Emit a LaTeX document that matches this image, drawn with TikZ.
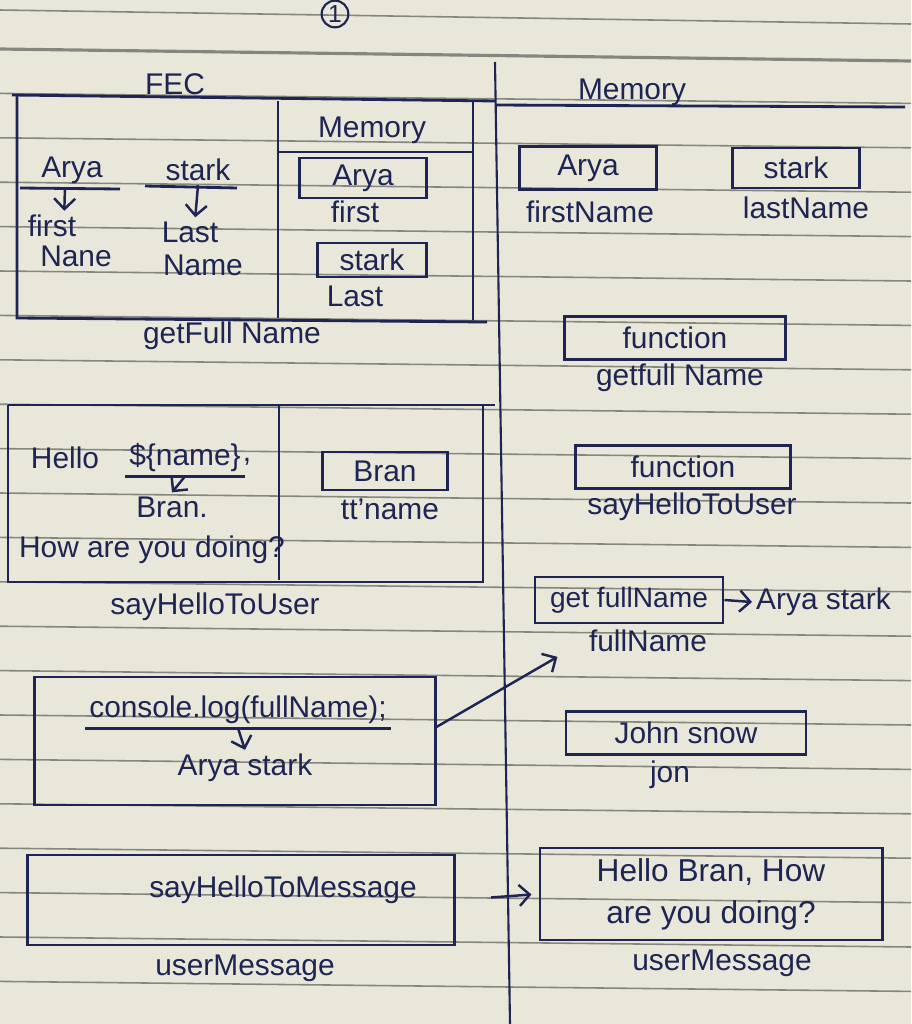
\documentclass[tikz,border=0pt]{standalone}
\usepackage{fontspec}
\setmainfont{Liberation Sans}
\usetikzlibrary{arrows.meta}
\definecolor{paper}{HTML}{E8E7DA}
\definecolor{ink}{HTML}{1E2553}
\definecolor{rule}{HTML}{85877F}
\tikzset{
  pen/.style={draw=ink, line width=.8pt},
  hand/.style={text=ink, font=\fontsize{8.5}{10}\selectfont, inner sep=1pt},
  cell/.style={pen, hand, inner sep=0pt},
  tip/.style={-{Straight Barb[length=3pt]}, draw=ink, line width=.7pt},
  ruled/.style={draw=rule, line width=.45pt},
}
\begin{document}
\begin{tikzpicture}[x=0.01cm, y=-0.01cm]
\useasboundingbox (0,0) rectangle (911,1024);
\fill[paper] (0,0) rectangle (911,1024);
% notebook lines
\begin{scope}
\clip (0,0) rectangle (911,1024);
\draw[ruled] (0,10) -- (911,24);
\draw[ruled, line width=.9pt] (0,49) -- (911,61);
\foreach \k in {1,...,22}{
    \draw[ruled] (0,{49+44.4*\k}) -- (911,{59+44.4*\k});
}
\end{scope}
\node[hand, draw=ink, circle, inner sep=.5pt, line width=.6pt, font=\fontsize{7}{8}\selectfont] (pg) at (335,14) {1};
\draw[pen, line width=.6pt] (495,62) -- (510,1024);

% FEC of getFullName
\node[hand] (fec) at (175,84) {FEC};
\draw[pen] (12,95) -- (495,101);
\draw[pen] (17,95) -- (17,318) -- (487,322);
\draw[pen] (473,101) -- (473,320);
\draw[pen] (278,101) -- (278,318);
\draw[pen] (278,152) -- (473,152);
\node[hand] (mem1) at (372,130) {Memory};
\node[hand] (arya1) at (72,170) {Arya};
\node[hand] (stark1) at (198,170) {stark};
\draw[pen] (20,188) -- (120,189);
\draw[pen] (145,186) -- (237,188);
\node[hand] (fn1) at (52,226) {first};
\node[hand] (fn2) at (76,256) {Nane};
\node[hand] (ln1) at (190,232) {Last};
\node[hand] (ln2) at (203,265) {Name};
\draw[tip] ([xshift=-2pt]arya1.south) -- ([xshift=3.5pt]fn1.north);
\draw[tip] (stark1.south) -- ([xshift=1.5pt]ln1.north);
\node[cell, minimum width=1.27cm, minimum height=.4cm] (aryabox1) at (363,178) {Arya};
\node[hand] (firstlbl) at (355,212) {first};
\node[cell, minimum width=1.09cm, minimum height=.34cm] (starkbox1) at (372,260) {stark};
\node[hand] (lastlbl) at (355,296) {Last};
\node[hand] (gfn) at (232,336) {getFull Name};

% global memory
\node[hand] (mem2) at (632,92) {Memory};
\draw[pen] (495,105) -- (905,107);
\node[cell, minimum width=1.37cm, minimum height=.43cm] (aryabox2) at (588,168) {Arya};
\node[hand] (fnlbl) at (590,212) {firstName};
\node[cell, minimum width=1.27cm, minimum height=.4cm] (starkbox2) at (796,168) {stark};
\node[hand] (lnlbl) at (806,208) {lastName};
\node[cell, minimum width=2.21cm, minimum height=.43cm] (fnbox1) at (675,338) {function};
\node[hand] (gfnlbl) at (680,378) {getfull Name};

% FEC of sayHelloToUser
\draw[pen] (8,405) -- (495,405);
\draw[pen] (8,405) -- (8,582) -- (483,582) -- (483,405);
\draw[pen] (279,405) -- (279,580);
\node[hand] (hl) at (65,458) {Hello};
\node[hand] (nm) at (185,458) {\$\{name\}};
\node[hand] (cm) at (247,462) {,};
\draw[pen] (nm.south west) -- (nm.south east);
\node[hand] (bran1) at (172,507) {Bran.};
\draw[tip] (nm.south) -- (bran1.north);
\node[hand] (howdo) at (152,550) {How are you doing?};
\node[cell, minimum width=1.25cm, minimum height=.38cm] (branbox) at (385,471) {Bran};
\node[hand] (ttname) at (390,509) {tt'name};
\node[hand] (shtu1) at (215,607) {sayHelloToUser};

\node[cell, minimum width=2.15cm, minimum height=.43cm] (fnbox2) at (683,467) {function};
\node[hand] (shtu2) at (692,507) {sayHelloToUser};
\node[cell, minimum width=1.88cm, minimum height=.46cm, font=\fontsize{8}{10}\selectfont] (gfnbox) at (629,600) {get fullName};
\node[hand, anchor=west] (aryastark1) at (752,602) {Arya stark};
\draw[tip] (gfnbox.east) -- (aryastark1.west);
\node[hand] (fulln) at (648,641) {fullName};

% console.log
\node[pen, minimum width=4cm, minimum height=1.28cm] (logbox) at (235,741) {};
\node[hand] (log) at (238,710) {console.log(fullName);};
\draw[pen] (log.south west) -- (log.south east);
\node[hand] (aryastark2) at (245,768) {Arya stark};
\draw[tip] (log.south) -- (aryastark2.north);
\draw[tip, shorten >=9pt] ([yshift=4pt]logbox.east) -- (fulln.west);
\node[cell, minimum width=2.4cm, minimum height=.43cm] (jsbox) at (686,733) {John snow};
\node[hand] (jon) at (670,775) {jon};

% userMessage
\node[pen, minimum width=4.27cm, minimum height=.9cm] (msgbox) at (241,900) {};
\node[hand] (msg) at (283,890) {sayHelloToMessage};
\node[hand] (umsg1) at (245,968) {userMessage};
\node[cell, minimum width=3.42cm, minimum height=.92cm, align=center, font=\fontsize{9}{12}\selectfont] (hellobox) at (711,894) {Hello Bran, How\\are you doing?};
\node[hand] (umsg2) at (722,963) {userMessage};
\draw[tip, shorten <=10pt, shorten >=2pt] (msgbox.east) -- (hellobox.west);
\end{tikzpicture}
\end{document}
